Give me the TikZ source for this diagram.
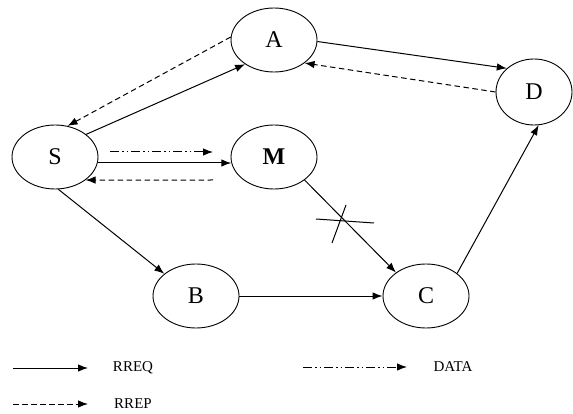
\documentclass[tikz,border=0pt]{standalone}
\usepackage{fontspec}
\setmainfont{Liberation Serif}
\usetikzlibrary{shapes.geometric,arrows.meta}
\begin{document}
\begin{tikzpicture}[x=1pt,y=-1pt,
  nd/.style={draw,ellipse,line width=0.9pt,minimum width=86pt,minimum height=64pt,inner sep=0pt,font=\fontsize{24}{24}\selectfont},
  arr/.style={line width=1pt,-{Latex[length=10pt,width=7.5pt]}},
  rrep/.style={arr,dash pattern=on 5.5pt off 3.5pt},
  data/.style={arr,dash pattern=on 9pt off 3pt on 1.5pt off 3pt on 1.5pt off 3pt},
  lg/.style={font=\fontsize{15}{15}\selectfont,inner sep=0pt}]
\useasboundingbox (0,0) rectangle (573,414);
\node[nd] (A) at (274,40) {A};
\node[nd,minimum width=76pt,minimum height=66pt] (D) at (534,92) {D};
\node[nd] (S) at (55,157) {S};
\node[nd] (M) at (274,157) {\bfseries M};
\node[nd] (B) at (196,296) {B};
\node[nd] (C) at (426,296) {C};
% RREQ
\draw[arr] (S.36) -- (A.-140);
\draw[arr] (A.-2) -- (D.139);
\draw[arr] (S.-8) -- (M.188);
\draw[arr] (S.-84) -- (B.145);
\draw[arr] (M.-37) -- (C.142);
\draw[arr] (B.east) -- (C.west);
\draw[arr] (C.36) -- (D.-82);
% RREP
\draw[rrep] (A.176) -- (S.68);
\draw[rrep] (D.180) -- (A.-37);
\coordinate (m3) at (213,180);
\draw[rrep] (m3) -- (S.-37);
% DATA
\coordinate (d1) at (110,152);
\coordinate (d2) at (213,152);
\draw[data] (d1) -- (d2);
% broken link mark
\draw[line width=1pt] (316,219) -- (374,223);
\draw[line width=1pt] (346,205) -- (332,243);
% legend
\coordinate (l1a) at (13,368); \coordinate (l1b) at (88,368);
\coordinate (l2a) at (13,404); \coordinate (l2b) at (88,404);
\coordinate (l3a) at (303,367); \coordinate (l3b) at (407,367);
\draw[arr] (l1a) -- (l1b);
\draw[rrep] (l2a) -- (l2b);
\draw[data] (l3a) -- (l3b);
\node[lg] (t1) at (133,368) {RREQ};
\node[lg] (t2) at (133,404) {RREP};
\node[lg] (t3) at (453,367) {DATA};
\end{tikzpicture}
\end{document}
